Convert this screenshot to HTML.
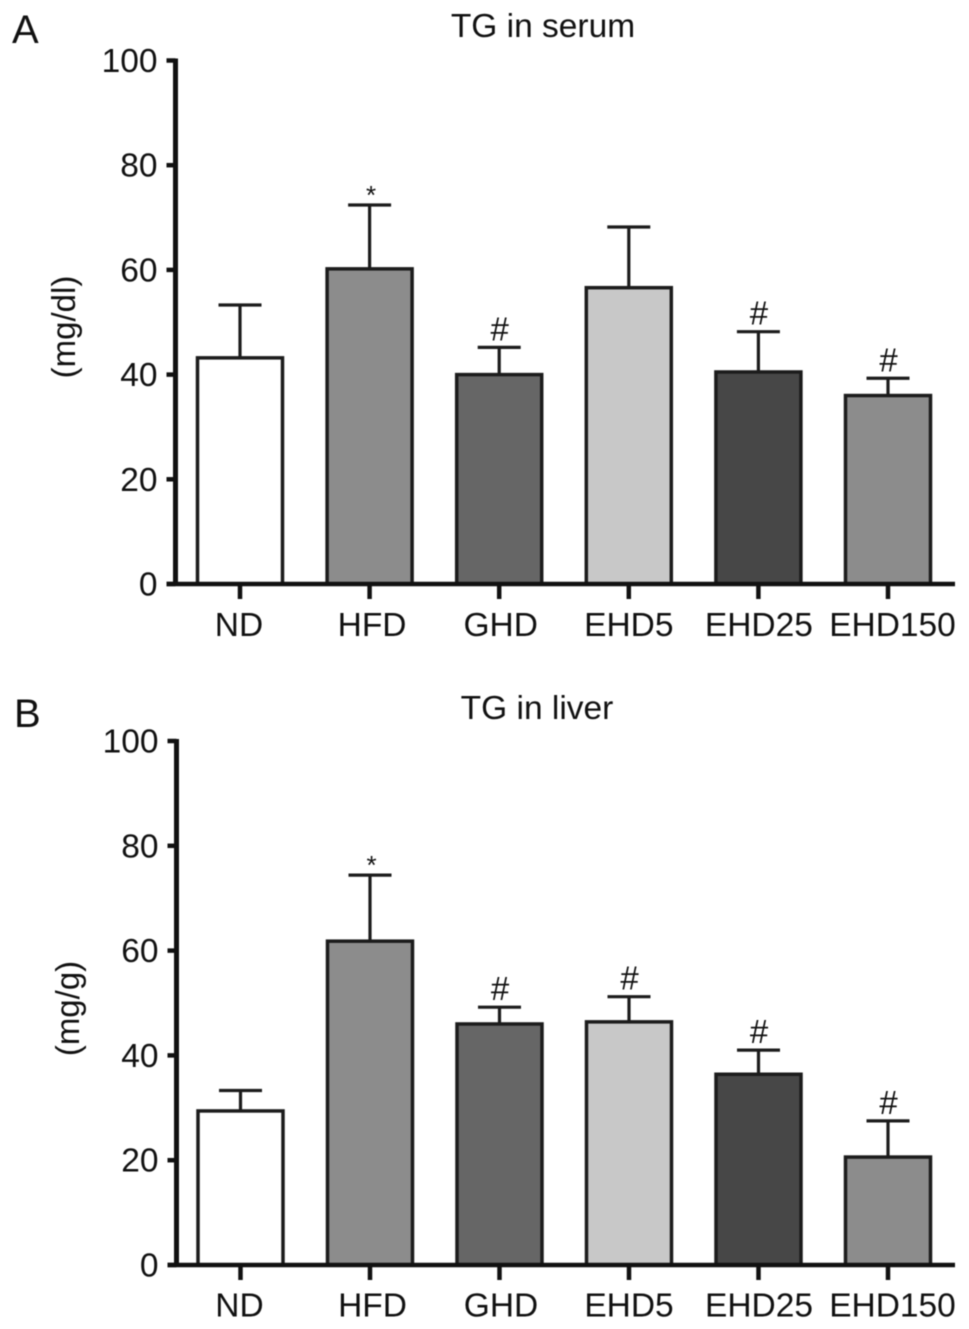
<!DOCTYPE html>
<html>
<head>
<meta charset="utf-8">
<style>
html,body{margin:0;padding:0;background:#fff;}
svg{display:block;filter:blur(0.45px);}
text{font-family:"Liberation Sans",Arial,sans-serif;fill:#111111;}
</style>
</head>
<body>
<svg id="chart" width="969" height="1329" viewBox="0 0 969 1329" xmlns="http://www.w3.org/2000/svg"></svg>
<script>
const categories = ["ND","HFD","GHD","EHD5","EHD25","EHD150"];
const barColors = ["#ffffff","#8c8c8c","#666666","#c8c8c8","#474747","#8c8c8c"];
const tickLabels = [0,20,40,60,80,100];
const serumValues = [43.2,60.2,40,56.6,40.5,36];
const serumErrors = [53.3,72.4,45.2,68.2,48.2,39.3];
const serumMarks = ["","*","#","","#","#"];
const liverValues = [29.4,61.8,46,46.4,36.4,20.6];
const liverErrors = [33.3,74.4,49.2,51.2,41,27.5];
const liverMarks = ["","*","#","#","#","#"];

const svg = document.getElementById('chart');
const NS = 'http://www.w3.org/2000/svg';
function add(tag, attrs, name, text){
  const el = document.createElementNS(NS, tag);
  for (const k in attrs) el.setAttribute(k, attrs[k]);
  
  
  if (text !== undefined) el.textContent = text;
  svg.appendChild(el);
  return el;
}
function panel(p){
  const labelNudge = [-1,2.5,1.5,0,0.5,4.5];
  const y = v => p.y0 + (p.y100 - p.y0) * v / 100;
  const x = i => p.x0 + p.step * i;
  const barW = 85;
  const ink = '#1c1c1c';
  add('text',{x:p.letterX,y:p.letterY,'font-size':40}, p.id+'-panel-letter', p.letter);
  add('text',{x:p.titleX,y:p.titleY,'font-size':33.5,'text-anchor':'middle'}, p.id+'-title', p.title);
  add('text',{x:0,y:0,'font-size':33,'text-anchor':'middle',transform:'translate('+p.ylabelX+','+p.ylabelY+') rotate(-90)'}, p.id+'-y-axis-title', p.ylabel);
  categories.forEach((c,i)=>{
    const cx = x(i);
    const top = y(p.errors[i]);
    const barTop = y(p.values[i]);
    add('line',{x1:cx,x2:cx,y1:top,y2:barTop,stroke:ink,'stroke-width':3.2}, p.id+'-error-stem-'+c.toLowerCase());
    add('line',{x1:cx-21.5,x2:cx+21.5,y1:top,y2:top,stroke:ink,'stroke-width':3.2}, p.id+'-error-cap-'+c.toLowerCase());
    add('rect',{x:cx-barW/2,y:barTop,width:barW,height:p.y0-barTop,fill:barColors[i],stroke:ink,'stroke-width':3.5}, p.id+'-bar-'+c.toLowerCase());
    add('line',{x1:cx,x2:cx,y1:p.y0,y2:p.y0+15,stroke:'#111','stroke-width':4.5}, p.id+'-x-tick-'+c.toLowerCase());
    add('text',{x:cx+labelNudge[i],y:p.y0+p.xLabelOffset,'font-size':33.5,'text-anchor':'middle'}, p.id+'-x-label-'+c.toLowerCase(), c);
    const m = p.marks[i];
    if (m === '#') add('text',{x:cx+0.5,y:top-7,'font-size':33,'text-anchor':'middle'}, p.id+'-significance-'+c.toLowerCase(), m);
    if (m === '*') add('text',{x:cx+1.5,y:top-1,'font-size':26,'text-anchor':'middle'}, p.id+'-significance-'+c.toLowerCase(), m);
  });
  tickLabels.forEach(t=>{
    add('line',{x1:p.axisX-9,x2:p.axisX,y1:y(t),y2:y(t),stroke:'#111','stroke-width':4.5}, p.id+'-y-tick-'+t);
    add('text',{x:p.axisX-18,y:y(t)+11.5,'font-size':33.5,'text-anchor':'end'}, p.id+'-y-label-'+t, t);
  });
  add('line',{x1:p.axisX,x2:p.axisX,y1:y(100)-2,y2:p.y0+2,stroke:'#111','stroke-width':5}, p.id+'-y-axis');
  add('line',{x1:p.axisX-9,x2:955,y1:p.y0,y2:p.y0,stroke:'#111','stroke-width':4.5}, p.id+'-x-axis');
}
panel({id:'serum',letter:'A',letterX:12,letterY:43,title:'TG in serum',titleX:543,titleY:37,ylabel:'(mg/dl)',ylabelX:75,ylabelY:327,
  y0:584,y100:60.5,x0:240,step:129.6,axisX:175.5,xLabelOffset:52,values:serumValues,errors:serumErrors,marks:serumMarks});
panel({id:'liver',letter:'B',letterX:14,letterY:727,title:'TG in liver',titleX:537,titleY:719,ylabel:'(mg/g)',ylabelX:79,ylabelY:1008.5,
  y0:1265,y100:741,x0:240.5,step:129.5,axisX:176.5,xLabelOffset:51.5,values:liverValues,errors:liverErrors,marks:liverMarks});
</script>
</body>
</html>
